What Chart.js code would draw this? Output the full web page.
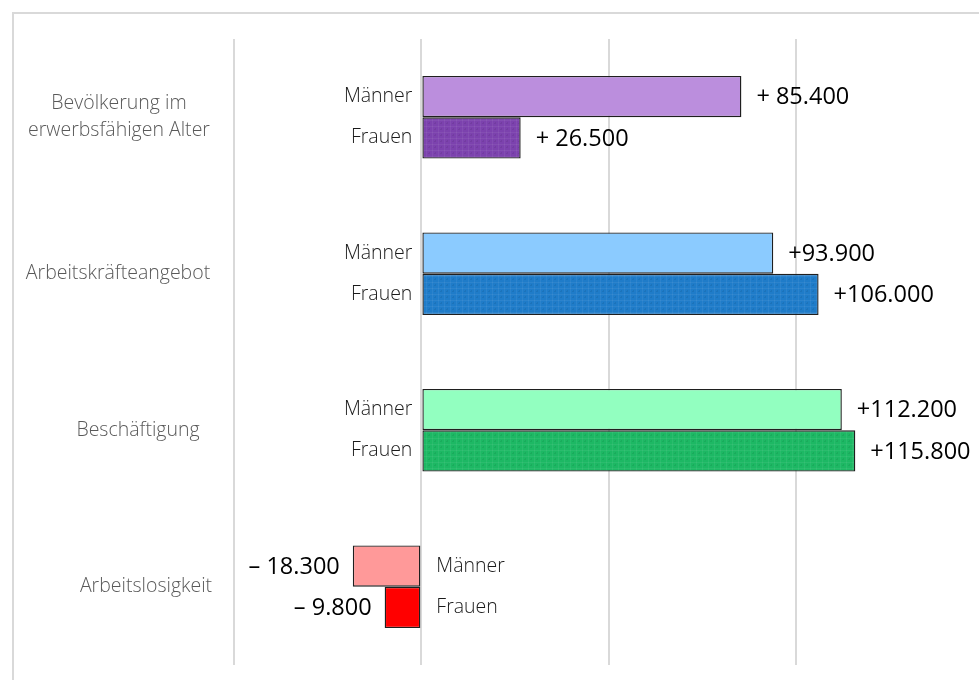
<!DOCTYPE html>
<html lang="de">
<head>
<meta charset="utf-8">
<script src="https://cdn.jsdelivr.net/npm/chart.js@4.4.1/dist/chart.umd.min.js"></script>
<style>
  html, body { margin: 0; padding: 0; background: #ffffff; }
  #wrap { position: relative; width: 979px; height: 680px; overflow: hidden; }
  #frame { position: absolute; left: 12px; top: 12px; right: -10px; bottom: -10px;
           border-left: 2px solid #d9d9d9; border-top: 2px solid #d9d9d9; }
  canvas { position: absolute; left: 0; top: 0; }
</style>
</head>
<body>
<div id="wrap">
  <div id="frame"></div>
  <canvas id="chart" width="979" height="680"></canvas>
</div>
<script>
// Veränderung nach Geschlecht, je Kennzahl
const categories = [
  ['Bevölkerung im', 'erwerbsfähigen Alter'],
  'Arbeitskräfteangebot',
  'Beschäftigung',
  'Arbeitslosigkeit'
];
const seriesNames = ['Männer', 'Frauen'];
const maennerValues = [85400, 93900, 112200, -18300];
const frauenValues = [26500, 106000, 115800, -9800];
const maennerLabels = ['+ 85.400', '+93.900', '+112.200', '\u2013 18.300'];
const frauenLabels = ['+ 26.500', '+106.000', '+115.800', '\u2013 9.800'];
const xTicks = [-50000, 0, 50000, 100000];

const maennerColors = ['#bb8edd', '#8bcbff', '#92ffc0', '#ff9999'];
const frauenColors = ['#7c42ae', '#1f7cc9', '#1db864', '#ff0000'];

// fine woven texture for the Frauen bars
function textured(base) {
  const c = document.createElement('canvas');
  c.width = 6; c.height = 6;
  const g = c.getContext('2d');
  g.fillStyle = base;
  g.fillRect(0, 0, 6, 6);
  g.fillStyle = 'rgba(255,255,255,0.06)';
  g.fillRect(0, 0, 6, 1);
  g.fillRect(0, 0, 1, 6);
  g.fillStyle = 'rgba(0,0,0,0.07)';
  g.fillRect(3, 3, 1, 1);
  g.fillRect(2, 3, 1, 1);
  g.fillRect(3, 2, 1, 1);
  return g.createPattern(c, 'repeat');
}
const frauenFills = frauenColors.map((col, i) => i === 3 ? col : textured(col));

// category names on the left, gray text
const categoryLabelCenters = [119, 118, 138, 146];
const labelsPlugin = {
  id: 'labels',
  afterDatasetsDraw(chart) {
    const ctx = chart.ctx;
    const y = chart.scales.y;
    const x = chart.scales.x;
    const zero = x.getPixelForValue(0);
    ctx.save();
    ctx.textBaseline = 'middle';

    // category names
    ctx.fillStyle = '#595959';
    ctx.font = '300 19.5px "Open Sans"';
    ctx.textAlign = 'center';
    categories.forEach((cat, i) => {
      const cy = y.getPixelForValue(i);
      const lines = Array.isArray(cat) ? cat : [cat];
      const lh = 27;
      lines.forEach((ln, k) => {
        ctx.fillText(ln, categoryLabelCenters[i], cy + (k - (lines.length - 1) / 2) * lh);
      });
    });

    // series names next to the zero line, values at bar ends
    const sets = [maennerLabels, frauenLabels];
    chart.data.datasets.forEach((ds, di) => {
      const meta = chart.getDatasetMeta(di);
      meta.data.forEach((bar, i) => {
        const v = ds.data[i];
        const by = bar.y;
        ctx.fillStyle = '#1a1a1a';
        ctx.font = '300 19.5px "Open Sans"';
        if (v >= 0) {
          ctx.textAlign = 'right';
          ctx.fillText(seriesNames[di], zero - 9, by);
        } else {
          ctx.textAlign = 'left';
          ctx.fillText(seriesNames[di], zero + 15, by);
        }
        ctx.fillStyle = '#000000';
        ctx.font = '23.5px "Open Sans"';
        if (v >= 0) {
          ctx.textAlign = 'left';
          ctx.fillText(sets[di][i], bar.x + 15, by + 1);
        } else {
          ctx.textAlign = 'right';
          ctx.fillText(sets[di][i], bar.x - 13, by + 1);
        }
      });
    });
    ctx.restore();
  }
};

new Chart(document.getElementById('chart'), {
  type: 'bar',
  data: {
    labels: categories,
    datasets: [
      {
        label: seriesNames[0],
        data: maennerValues,
        backgroundColor: maennerColors,
        borderColor: '#1f1f1f',
        borderWidth: 1.4,
        borderSkipped: false
      },
      {
        label: seriesNames[1],
        data: frauenValues,
        backgroundColor: frauenFills,
        borderColor: '#1f1f1f',
        borderWidth: 1.4,
        borderSkipped: false
      }
    ]
  },
  options: {
    indexAxis: 'y',
    responsive: false,
    animation: false,
    devicePixelRatio: 1,
    layout: { padding: { left: 234, right: 33, top: 39, bottom: 15 } },
    categoryPercentage: 0.528,
    barPercentage: 1,
    plugins: {
      legend: { display: false },
      tooltip: { enabled: false },
      title: { display: false }
    },
    scales: {
      x: {
        min: -50000,
        max: 140000,
        afterBuildTicks(scale) {
          scale.ticks = xTicks.map(v => ({ value: v }));
        },
        ticks: { display: false },
        border: { display: false },
        grid: { color: '#d9d9d9', lineWidth: 2, drawTicks: false }
      },
      y: {
        display: false
      }
    }
  },
  plugins: [labelsPlugin]
});
</script>
</body>
</html>
